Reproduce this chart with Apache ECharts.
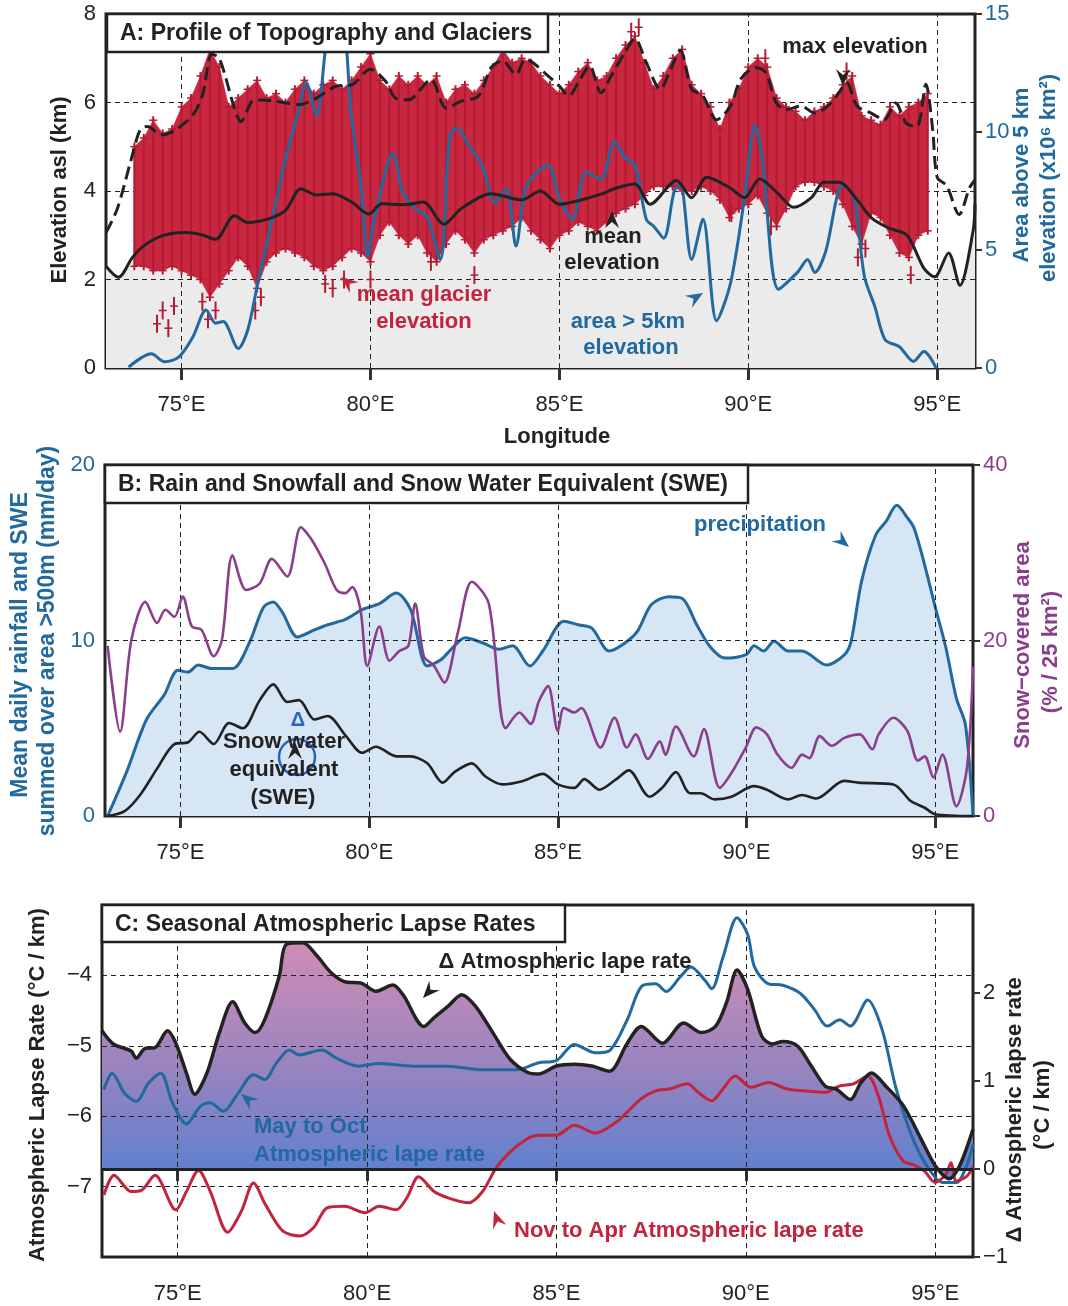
<!DOCTYPE html>
<html>
<head>
<meta charset="utf-8">
<script src="https://cdn.jsdelivr.net/npm/echarts@6/dist/echarts.min.js"></script>
<style>
  html, body { margin: 0; background: #fff; }
  #chart { width: 1068px; height: 1306px; }
</style>
</head>
<body>
<div id="chart"></div>
<script>
// longitude ticks shared by the three panels
const lonTicks = [75, 80, 85, 90, 95];

// ---- A: topography and glaciers ----
const meanLon = [73.0, 73.33, 73.7, 74.0, 74.5, 75.1, 75.5, 75.9, 76.4, 76.75,
  77.3, 77.75, 78.16, 78.57, 79.0, 79.5, 79.95, 80.3, 80.9, 81.4,
  81.94, 82.4, 83.2, 84.0, 84.5, 85.0, 85.5, 86.1, 86.55, 87.0,
  87.4, 88.1, 88.5, 88.9, 89.5, 89.9, 90.3, 90.8, 91.2, 91.67,
  92.0, 92.4, 92.9, 93.25, 93.7, 94.2, 94.65, 94.93, 95.3, 95.6,
  95.95, 96.0];
const meanElev = [2.3, 2.05, 2.5, 2.76, 2.99, 3.06, 3.02, 2.91, 3.44, 3.29,
  3.37, 3.56, 4.05, 3.91, 3.94, 3.75, 3.48, 3.71, 3.69, 3.75,
  3.25, 3.6, 3.94, 3.8, 4.0, 3.7, 3.78, 3.93, 4.08, 4.16,
  3.7, 4.24, 3.85, 4.31, 4.08, 3.85, 4.27, 3.93, 3.63, 3.85,
  4.2, 4.2, 3.78, 3.4, 3.17, 3.0, 2.25, 2.06, 2.6, 1.87,
  3.1, 3.7];

const maxLon = [73.0, 73.3, 73.65, 73.9, 74.1, 74.47, 74.84, 75.3, 75.56, 75.8,
  76.0, 76.4, 76.57, 76.93, 77.48, 78.1, 78.57, 79.1, 79.5, 80.0,
  80.4, 80.66, 81.0, 81.6, 82.0, 82.4, 82.85, 83.2, 83.5, 83.85,
  84.1, 84.3, 84.7, 85.0, 85.25, 85.5, 85.8, 86.1, 86.37, 86.74,
  87.0, 87.3, 87.67, 87.95, 88.2, 88.5, 88.8, 89.16, 89.53, 89.8,
  90.19, 90.46, 90.74, 91.0, 91.4, 91.76, 92.1, 92.4, 92.6, 92.88,
  93.25, 93.6, 93.9, 94.18, 94.46, 94.7, 94.88, 95.0, 95.25, 95.58,
  95.86, 96.0];
const maxElev = [3.06, 3.6, 4.66, 5.38, 5.46, 5.27, 5.38, 5.72, 6.18, 7.09,
  7.0, 5.87, 5.57, 6.06, 6.03, 5.95, 6.1, 6.37, 6.4, 6.75,
  6.48, 6.1, 6.06, 6.52, 5.87, 6.03, 6.14, 6.79, 6.94, 6.63,
  6.98, 6.9, 6.6, 6.37, 6.15, 6.45, 6.83, 6.22, 6.6, 7.14,
  7.44, 6.9, 6.3, 6.76, 7.18, 6.3, 6.15, 5.61, 5.92, 6.53,
  6.79, 6.68, 5.99, 5.84, 5.92, 5.76, 5.92, 6.22, 6.45, 5.92,
  5.76, 5.61, 5.99, 5.53, 5.46, 6.41, 5.38, 4.31, 4.12, 3.47,
  4.08, 4.25];

// area above 5 km (x10^6 km2, right axis)
const areaLon = [73.6, 74.2, 74.56, 74.93, 75.3, 75.65, 75.9, 76.1, 76.5, 76.75,
  77.0, 77.4, 77.75, 78.1, 78.3, 78.57, 78.8, 78.95, 79.2, 79.5,
  79.75, 79.93, 80.1, 80.6, 80.85, 81.2, 81.5, 81.85, 82.1, 82.3,
  82.6, 82.95, 83.3, 83.6, 83.85, 84.1, 84.4, 84.7, 85.0, 85.35,
  85.7, 86.1, 86.46, 86.74, 87.0, 87.3, 87.5, 87.76, 88.04, 88.2,
  88.5, 88.8, 89.16, 89.53, 89.9, 90.18, 90.37, 90.8, 91.3, 91.57,
  91.76, 92.04, 92.5, 92.8, 93.07, 93.35, 93.62, 94.0, 94.37, 94.65,
  94.97];
const areaVal = [0.04, 0.6, 0.26, 0.47, 1.32, 2.46, 1.9, 1.97, 0.83, 1.6,
  3.46, 6.3, 8.87, 10.9, 12.1, 10.7, 13.4, 15.5, 15.5, 10.6,
  7.7, 4.74, 6.3, 9.1, 7.45, 6.74, 6.4, 4.6, 9.87, 10.16,
  9.44, 8.6, 7.0, 7.6, 5.17, 7.6, 8.3, 8.6, 7.2, 6.3,
  8.3, 8.0, 9.6, 8.9, 8.6, 6.3, 6.0, 5.5, 7.5, 7.8,
  4.6, 6.3, 2.0, 3.6, 7.2, 10.3, 8.9, 3.34, 4.05, 4.6,
  4.05, 4.9, 7.75, 7.2, 3.9, 2.6, 1.2, 0.9, 0.28, 0.7,
  0];

// mean glacier elevation spread (km)
const glLon = [73.75, 74.0, 74.25, 74.5, 74.75, 75.0, 75.25, 75.5, 75.75, 76.0,
  76.25, 76.5, 76.75, 77.0, 77.25, 77.5, 77.75, 78.0, 78.25, 78.5,
  78.75, 79.0, 79.25, 79.5, 79.75, 80.0, 80.25, 80.5, 80.75, 81.0,
  81.25, 81.5, 81.75, 82.0, 82.25, 82.5, 82.75, 83.0, 83.25, 83.5,
  83.75, 84.0, 84.25, 84.5, 84.75, 85.0, 85.25, 85.5, 85.75, 86.0,
  86.25, 86.5, 86.75, 87.0, 87.25, 87.5, 87.75, 88.0, 88.25, 88.5,
  88.75, 89.0, 89.25, 89.5, 89.75, 90.0, 90.25, 90.5, 90.75, 91.0,
  91.25, 91.5, 91.75, 92.0, 92.25, 92.5, 92.75, 93.0, 93.25, 93.5,
  93.75, 94.0, 94.25, 94.5, 94.75];
const glTop = [5.0, 5.2, 5.6, 5.3, 5.4, 5.9, 6.1, 6.6, 7.2, 6.8,
  5.9, 6.1, 6.3, 6.5, 6.1, 6.2, 6.0, 6.3, 6.5, 6.2,
  6.4, 6.5, 6.3, 6.5, 6.8, 7.1, 6.5, 6.3, 6.6, 6.4,
  6.6, 6.4, 6.6, 6.0, 6.3, 6.4, 6.2, 6.5, 6.8, 7.2,
  6.9, 7.0, 6.9, 6.6, 6.4, 6.2, 6.4, 6.7, 6.9, 6.5,
  6.6, 7.0, 7.3, 7.5, 6.9, 6.3, 6.6, 7.0, 7.2, 6.4,
  6.2, 5.9, 5.4, 6.0, 6.3, 6.8, 7.0, 6.8, 6.1, 5.9,
  5.8, 5.6, 5.8, 5.9, 6.1, 6.4, 6.6, 5.7, 5.6, 5.5,
  5.9, 5.7, 5.9, 6.0, 6.2];
const glLow = [2.3, 2.3, 2.2, 2.2, 2.3, 2.2, 2.1, 2.0, 1.6, 1.9,
  2.2, 2.5, 2.3, 1.8, 2.4, 2.6, 2.7, 2.6, 2.5, 2.3,
  2.2, 2.3, 2.5, 2.7, 2.6, 2.4, 3.0, 3.3, 3.0, 2.8,
  3.0, 2.6, 2.4, 2.8, 3.1, 2.9, 2.6, 2.9, 3.0, 3.1,
  3.2, 3.4, 3.1, 2.9, 2.7, 3.0, 3.1, 3.3, 3.2, 3.1,
  3.3, 3.5, 3.6, 3.7, 3.9, 4.1, 4.1, 4.1, 4.0, 4.0,
  4.1, 4.0, 3.8, 3.4, 3.6, 3.7, 3.9, 3.5, 3.2, 3.6,
  4.1, 4.2, 4.2, 4.1, 4.0, 3.7, 3.2, 2.8, 3.5, 3.4,
  3.0, 2.6, 2.5, 3.0, 3.1];
// isolated glaciers outside the dense cloud
const glOutLon = [74.35, 74.5, 74.65, 74.8, 75.55, 75.7, 75.9, 76.95, 77.1, 78.8,
  79.0, 79.3, 80.0, 81.6, 82.75, 89.55, 90.6, 92.9, 93.1, 94.3,
  86.9, 87.1, 80.05, 90.45, 92.6];
const glOutElev = [1.0, 1.3, 0.9, 1.4, 1.5, 1.1, 1.3, 1.3, 1.6, 1.9,
  1.8, 2.0, 2.0, 2.4, 2.1, 3.5, 3.2, 2.5, 2.7, 2.1,
  7.6, 7.7, 7.3, 7.0, 6.7];

// ---- B: precipitation, snow cover, SWE ----
const precipLon = [73.07, 73.57, 74.1, 74.57, 74.93, 75.2, 75.47, 75.83, 76.38, 76.83,
  77.2, 77.46, 77.7, 78.1, 78.55, 78.9, 79.37, 79.8, 80.27, 80.72,
  81.1, 81.54, 81.9, 82.26, 82.54, 83.0, 83.44, 83.8, 84.26, 84.6,
  85.16, 85.53, 85.9, 86.36, 86.74, 87.1, 87.48, 87.94, 88.3, 88.68,
  89.05, 89.43, 89.99, 90.2, 90.45, 90.73, 91.1, 91.47, 92.12, 92.6,
  92.77, 93.05, 93.42, 93.7, 93.98, 94.26, 94.44, 94.72, 95.0, 95.28,
  95.56, 95.8, 96.0];
const precip = [0, 2.5, 5.5, 6.9, 8.3, 8.2, 8.6, 8.4, 8.4, 9.9,
  11.9, 12.2, 11.6, 10.2, 10.6, 10.9, 11.2, 11.75, 12.1, 12.7,
  11.75, 8.55, 8.9, 9.7, 10.15, 9.87, 9.5, 9.7, 8.55, 9.4,
  11.1, 10.9, 10.7, 9.4, 9.8, 10.5, 12.05, 12.5, 12.4, 10.9,
  9.6, 9.0, 9.2, 9.7, 9.4, 9.96, 9.4, 9.4, 8.6, 9.2,
  9.96, 13.4, 16.0, 16.8, 17.7, 17.0, 16.4, 14.3, 11.9, 9.6,
  6.7, 5.2, 0];

const snowLon = [73.07, 73.4, 73.7, 74.07, 74.38, 74.6, 74.84, 75.06, 75.3, 75.56,
  75.88, 76.1, 76.38, 76.74, 77.1, 77.42, 77.83, 78.19, 78.46, 78.82,
  79.14, 79.37, 79.55, 79.77, 79.95, 80.27, 80.54, 80.8, 81.04, 81.22,
  81.45, 81.72, 81.99, 82.35, 82.72, 83.17, 83.62, 83.98, 84.28, 84.5,
  84.74, 85.0, 85.16, 85.44, 85.62, 86.13, 86.5, 86.83, 87.06, 87.39,
  87.7, 87.85, 88.13, 88.6, 88.87, 89.29, 89.6, 89.98, 90.26, 90.54,
  90.82, 91.19, 91.47, 91.66, 91.94, 92.26, 92.59, 93.0, 93.33, 93.5,
  93.89, 94.26, 94.54, 94.72, 94.95, 95.19, 95.56, 95.84, 96.0];
const snowCover = [19.4, 9.6, 20.1, 24.4, 22.0, 23.5, 22.7, 25.0, 21.6, 21.2,
  18.2, 20.1, 29.7, 25.75, 26.5, 29.3, 27.3, 32.9, 31.6, 28.8,
  25.75, 25.4, 26.1, 23.5, 17.1, 21.6, 17.7, 18.8, 19.4, 24.2,
  18.2, 17.1, 15.2, 20.9, 26.7, 24.2, 10.0, 11.8, 10.5, 13.1,
  14.8, 9.7, 12.3, 11.8, 12.3, 7.8, 11.2, 7.8, 9.3, 6.5,
  8.5, 7.0, 10.2, 6.8, 9.9, 3.2, 4.9, 7.8, 10.1, 9.3,
  7.0, 5.5, 7.0, 6.6, 9.1, 8.0, 8.9, 9.3, 7.6, 9.3,
  11.2, 9.7, 6.3, 6.8, 4.4, 7.0, 1.1, 5.5, 17.0];

const sweLon = [73.07, 73.52, 73.93, 74.38, 74.84, 75.2, 75.5, 75.88, 76.29, 76.65,
  77.1, 77.46, 77.83, 78.14, 78.55, 78.9, 79.37, 79.82, 80.18, 80.72,
  81.09, 81.54, 81.95, 82.26, 82.72, 83.08, 83.53, 84.08, 84.6, 85.0,
  85.44, 85.7, 86.1, 86.55, 86.88, 87.43, 87.76, 88.13, 88.5, 88.78,
  89.15, 89.6, 90.2, 90.54, 91.1, 91.47, 91.84, 92.59, 92.96, 93.89,
  94.35, 94.72, 95.0, 96.0];
const swe = [0, 0.28, 1.2, 2.7, 4.1, 4.2, 4.8, 4.1, 5.3, 5.0,
  6.6, 7.5, 6.5, 6.6, 5.5, 5.7, 4.6, 3.6, 3.95, 3.4,
  3.4, 3.0, 1.9, 2.5, 3.0, 2.25, 1.8, 2.0, 2.4, 1.8,
  1.6, 2.1, 1.5, 2.1, 2.6, 1.1, 1.6, 2.5, 1.3, 1.3,
  0.95, 1.1, 1.7, 1.5, 0.95, 1.2, 1.0, 2.0, 1.9, 1.8,
  0.85, 0.47, 0.1, 0];

// ---- C: lapse rates ----
const deltaLon = [73.0, 73.3, 73.77, 73.9, 74.14, 74.4, 74.73, 74.95, 75.23, 75.45,
  75.77, 76.1, 76.45, 76.77, 77.05, 77.3, 77.68, 77.86, 78.3, 78.68,
  79.05, 79.4, 79.86, 80.23, 80.68, 80.95, 81.5, 81.77, 82.14, 82.5,
  82.86, 83.32, 83.77, 84.23, 84.53, 85.0, 85.47, 85.93, 86.4, 86.87,
  87.24, 87.8, 88.36, 88.83, 89.2, 89.49, 89.77, 90.05, 90.42, 90.7,
  90.98, 91.36, 91.73, 92.1, 92.38, 92.76, 93.04, 93.32, 93.7, 94.16,
  94.63, 95.0, 95.37, 95.65, 96.0];
const deltaRate = [1.57, 1.42, 1.34, 1.26, 1.37, 1.38, 1.57, 1.43, 1.09, 0.85,
  1.09, 1.55, 1.9, 1.66, 1.55, 1.7, 2.19, 2.55, 2.57, 2.42,
  2.23, 2.13, 2.11, 2.02, 2.09, 1.98, 1.62, 1.72, 1.85, 1.98,
  1.85, 1.55, 1.25, 1.1, 1.08, 1.17, 1.19, 1.17, 1.11, 1.43,
  1.62, 1.43, 1.66, 1.55, 1.62, 1.89, 2.26, 2.04, 1.51, 1.42,
  1.45, 1.4, 1.17, 0.94, 0.91, 0.79, 0.98, 1.09, 0.94, 0.72,
  0.34, 0.04, -0.11, 0.04, 0.45];

const mayLon = [73.05, 73.27, 73.59, 73.9, 74.23, 74.55, 74.86, 75.23, 75.6, 75.86,
  76.2, 76.6, 77.0, 77.3, 77.6, 77.95, 78.2, 78.8, 79.2, 79.77,
  80.3, 81.2, 82.1, 83.05, 83.95, 84.53, 85.0, 85.47, 86.03, 86.4,
  86.87, 87.24, 87.62, 87.9, 88.27, 88.55, 88.92, 89.1, 89.4, 89.77,
  90.05, 90.23, 90.6, 90.98, 91.45, 91.82, 92.15, 92.48, 92.76, 93.22,
  93.6, 93.97, 94.44, 94.81, 95.19, 95.56, 95.84, 96.0];
const mayOct = [-5.62, -5.39, -5.67, -5.79, -5.53, -5.39, -5.81, -6.11, -5.86, -5.81,
  -5.93, -5.67, -5.41, -5.48, -5.25, -5.06, -5.13, -5.06, -5.18, -5.29,
  -5.25, -5.29, -5.29, -5.34, -5.34, -5.24, -5.21, -4.98, -5.1, -5.07,
  -4.63, -4.16, -4.12, -4.23, -4.02, -3.88, -4.07, -4.19, -3.74, -3.18,
  -3.42, -3.88, -4.12, -4.14, -4.26, -4.49, -4.72, -4.63, -4.72, -4.35,
  -4.77, -5.61, -6.36, -6.73, -6.94, -6.94, -6.69, -6.4];

const novLon = [73.05, 73.32, 73.77, 74.05, 74.4, 74.95, 75.23, 75.55, 75.86, 76.32,
  76.68, 77.0, 77.32, 77.77, 78.23, 78.59, 78.95, 79.4, 79.95, 80.32,
  80.77, 81.05, 81.36, 81.77, 82.14, 82.68, 83.05, 83.4, 83.77, 84.23,
  84.53, 85.0, 85.47, 86.03, 86.59, 86.87, 87.24, 87.62, 88.0, 88.46,
  88.74, 89.1, 89.4, 89.72, 90.14, 90.6, 91.07, 91.54, 92.1, 92.48,
  92.85, 93.22, 93.5, 93.79, 94.16, 94.44, 94.72, 95.0, 95.28, 95.42,
  95.56, 95.84, 96.0];
const novApr = [-7.12, -6.84, -7.07, -7.05, -6.84, -7.33, -7.07, -6.77, -7.07, -7.65,
  -7.35, -6.95, -7.26, -7.63, -7.7, -7.58, -7.3, -7.28, -7.37, -7.28,
  -7.33, -7.16, -6.86, -7.07, -7.16, -7.23, -7.07, -6.74, -6.51, -6.32,
  -6.27, -6.27, -6.13, -6.24, -6.08, -5.94, -5.75, -5.64, -5.61, -5.54,
  -5.66, -5.78, -5.61, -5.43, -5.59, -5.52, -5.61, -5.64, -5.66, -5.57,
  -5.54, -5.43, -5.71, -6.27, -6.64, -6.69, -6.78, -6.94, -6.83, -6.66,
  -6.92, -6.85, -6.72];

const FF = '"Liberation Sans", Arial, Helvetica, sans-serif';
const DARK = '#222';
const BLUE = '#21699e';
const RED = '#c2243e';
const PURPLE = '#8a3e8b';

function zip(xs, ys) { return xs.map((x, i) => [x, ys[i]]); }
function minus(v) { return String(v).replace('-', '\u2212'); }

function gridLines(hValues, z) {
  return {
    silent: true, z: z, symbol: ['none', 'none'], label: { show: false },
    lineStyle: { color: DARK, type: [5, 4], width: 1 },
    emphasis: { disabled: true },
    data: lonTicks.map(v => ({ xAxis: v })).concat(hValues.map(v => ({ yAxis: v })))
  };
}

function xAx(i) {
  return {
    gridIndex: i, type: 'value', min: 73, max: 96,
    axisLine: { show: false }, splitLine: { show: false },
    axisTick: { customValues: lonTicks, length: 12, lineStyle: { color: '#333', width: 3 } },
    axisLabel: { customValues: lonTicks, formatter: v => v + '°E', fontSize: 22, color: DARK, margin: 26, fontFamily: FF }
  };
}
function yAx(i, pos, min, max, interval, color, extra) {
  return Object.assign({
    gridIndex: i, type: 'value', position: pos, min, max, interval,
    axisLine: { show: false }, splitLine: { show: false },
    axisTick: { show: pos === 'right', length: 7, lineStyle: { color: '#333', width: 2 } },
    axisLabel: { fontSize: 22, color, margin: 10, fontFamily: FF, formatter: minus }
  }, extra || {});
}

function line(name, xs, ys, xi, yi, color, width, z, more) {
  return Object.assign({
    name, type: 'line', xAxisIndex: xi, yAxisIndex: yi, data: zip(xs, ys),
    showSymbol: false, smooth: 0.3, z,
    lineStyle: { color, width }, itemStyle: { color }
  }, more || {});
}

// glacier cloud: band polygon + error bars per sample
function glacierItem(params, api) {
  const i = params.dataIndex;
  const x = api.value(0);
  const pTop = api.coord([x, api.value(2)]);
  const pLow = api.coord([x, api.value(1)]);
  const kids = [];
  if (i < glLon.length - 1) {
    const nTop = api.coord([glLon[i + 1], glTop[i + 1]]);
    const nLow = api.coord([glLon[i + 1], glLow[i + 1]]);
    kids.push({ type: 'polygon', shape: { points: [pTop, nTop, nLow, pLow] },
      style: { fill: '#c8283f', stroke: '#c8283f', lineWidth: 0.6 } });
  }
  kids.push({ type: 'line', shape: { x1: pTop[0], y1: pTop[1] - 4, x2: pLow[0], y2: pLow[1] + 4 },
    style: { stroke: '#b51a35', lineWidth: 2 } });
  [pTop, pLow].forEach(p => kids.push({ type: 'line', shape: { x1: p[0] - 4, y1: p[1], x2: p[0] + 4, y2: p[1] },
    style: { stroke: '#b51a35', lineWidth: 1.5 } }));
  return { type: 'group', children: kids };
}
function crossItem(params, api) {
  const p = api.coord([api.value(0), api.value(1)]);
  return { type: 'group', children: [
    { type: 'line', shape: { x1: p[0], y1: p[1] - 9, x2: p[0], y2: p[1] + 9 }, style: { stroke: '#b51a35', lineWidth: 2 } },
    { type: 'line', shape: { x1: p[0] - 4, y1: p[1], x2: p[0] + 4, y2: p[1] }, style: { stroke: '#b51a35', lineWidth: 1.5 } }
  ] };
}

// ---- annotation helpers ----
function txt(x, y, text, color, size, opts) {
  opts = opts || {};
  const el = { type: 'text', x, y, z: 100, silent: true,
    style: { text, font: (opts.weight || 'bold') + ' ' + size + 'px ' + FF, fill: color,
      textAlign: opts.align || 'center', textVerticalAlign: 'middle' } };
  if (opts.rot) el.rotation = opts.rot;
  return el;
}
function dart(x, y, dx, dy, color) {
  const a = Math.atan2(dy, dx), c = Math.cos(a), s = Math.sin(a);
  const pts = [[0, 0], [-17, -7], [-11, 0], [-17, 7]].map(([u, v]) => [x + u * c - v * s, y + u * s + v * c]);
  return { type: 'polygon', z: 100, silent: true, shape: { points: pts }, style: { fill: color } };
}
function box(x, y, w, h, text) {
  return [
    { type: 'rect', z: 99, silent: true, shape: { x, y, width: w, height: h }, style: { fill: '#fff', stroke: DARK, lineWidth: 2.5 } },
    txt(x + 13, y + h / 2 + 1, text, DARK, 23, { align: 'left' })
  ];
}
const R90 = Math.PI / 2;

const graphics = [].concat(
  box(107, 14, 441, 38, 'A: Profile of Topography and Glaciers'),
  box(105, 465, 643, 38, 'B: Rain and Snowfall and Snow Water Equivalent (SWE)'),
  box(102, 905, 463, 37, 'C: Seasonal Atmospheric Lapse Rates'),
  [
    // axis titles
    txt(60, 190, 'Elevation asl (km)', DARK, 22, { rot: R90 }),
    txt(1022, 175, 'Area above 5 km', BLUE, 22, { rot: R90 }),
    txt(1049, 178, 'elevation (x10\u2076 km\u00b2)', BLUE, 22, { rot: R90 }),
    txt(557, 437, 'Longitude', DARK, 22),
    txt(21, 645, 'Mean daily rainfall and SWE', BLUE, 23, { rot: R90 }),
    txt(48, 641, 'summed over area >500m (mm/day)', BLUE, 23, { rot: R90 }),
    txt(1023, 645, 'Snow\u2212covered area', PURPLE, 22, { rot: R90 }),
    txt(1051, 652, '(% / 25 km\u00b2)', PURPLE, 22, { rot: R90 }),
    txt(38, 1085, 'Atmospheric Lapse Rate (°C / km)', DARK, 22, { rot: R90 }),
    txt(1015, 1110, '\u0394 Atmospheric lapse rate', DARK, 22, { rot: R90 }),
    txt(1043, 1105, '(°C / km)', DARK, 22, { rot: R90 }),
    // panel A notes
    txt(855, 47, 'max elevation', DARK, 22),
    dart(843, 86, 0, 1, DARK),
    txt(613, 237, 'mean', DARK, 22),
    txt(612, 263, 'elevation', DARK, 22),
    dart(612, 211, 0, -1, DARK),
    txt(424, 295, 'mean glacier', RED, 22),
    txt(424, 322, 'elevation', RED, 22),
    dart(341, 277, -1, -0.8, RED),
    txt(628, 322, 'area > 5km', BLUE, 22),
    txt(631, 348, 'elevation', BLUE, 22),
    dart(703, 293, 1, -0.6, BLUE),
    // panel B notes
    txt(760, 525, 'precipitation', BLUE, 22),
    dart(849, 547, 1, 0.85, BLUE),
    { type: 'circle', z: 100, silent: true, shape: { cx: 297, cy: 757, r: 18 }, style: { fill: 'none', stroke: '#2c62c0', lineWidth: 2.5 } },
    txt(298, 720, '\u0394', '#2c62c0', 20),
    dart(295, 742, 0, -1, DARK),
    txt(284, 742, 'Snow water', DARK, 22),
    txt(284, 770, 'equivalent', DARK, 22),
    txt(283, 798, '(SWE)', DARK, 22),
    // panel C notes
    txt(565, 962, '\u0394 Atmospheric lape rate', DARK, 22),
    dart(423, 998, -1, 1.1, DARK),
    txt(254, 1127, 'May to Oct', BLUE, 22, { align: 'left' }),
    txt(254, 1155, 'Atmospheric lape rate', BLUE, 22, { align: 'left' }),
    dart(241, 1094, -1, -0.8, BLUE),
    txt(514, 1231, 'Nov to Apr Atmospheric lape rate', RED, 22, { align: 'left' }),
    dart(494, 1211, -0.35, -1, RED)
  ]
);

const chart = echarts.init(document.getElementById('chart'), null, { renderer: 'canvas' });
chart.setOption({
  animation: false,
  backgroundColor: '#fff',
  textStyle: { fontFamily: FF },
  grid: [
    { left: 106, right: 93, top: 14, height: 354, show: true, borderColor: DARK, borderWidth: 3, backgroundColor: 'transparent' },
    { left: 105, right: 95, top: 465, height: 351, show: true, borderColor: DARK, borderWidth: 3, backgroundColor: 'transparent' },
    { left: 102, right: 95, top: 905, height: 352, show: true, borderColor: DARK, borderWidth: 3, backgroundColor: 'transparent' }
  ],
  xAxis: [xAx(0), xAx(1), xAx(2)],
  yAxis: [
    yAx(0, 'left', 0, 8, 2, DARK),
    yAx(0, 'right', 0, 15, 5, BLUE),
    yAx(1, 'left', 0, 20, 10, BLUE),
    yAx(1, 'right', 0, 40, 20, PURPLE),
    yAx(2, 'left', -8, -3, 1, DARK, { axisLabel: { fontSize: 22, color: DARK, margin: 10, fontFamily: FF, formatter: minus, showMinLabel: false, showMaxLabel: false } }),
    yAx(2, 'right', -1, 3, 1, DARK, { axisLabel: { fontSize: 22, color: DARK, margin: 10, fontFamily: FF, formatter: minus, showMaxLabel: false } })
  ],
  series: [
    // A
    line('mean fill', meanLon, meanElev, 0, 0, 'transparent', 0, 1, {
      areaStyle: { color: '#ebebeb', opacity: 1, origin: 'start' }, lineStyle: { width: 0 },
      markLine: gridLines([2, 4, 6], 2)
    }),
    {
      name: 'glacier', type: 'custom', xAxisIndex: 0, yAxisIndex: 0, z: 3,
      data: glLon.map((l, i) => [l, glLow[i], glTop[i]]),
      encode: { x: 0, y: [1, 2] }, renderItem: glacierItem, clip: true
    },
    {
      name: 'glacier outliers', type: 'custom', xAxisIndex: 0, yAxisIndex: 0, z: 3,
      data: zip(glOutLon, glOutElev), encode: { x: 0, y: 1 }, renderItem: crossItem, clip: true
    },
    line('area > 5km', areaLon, areaVal, 0, 1, BLUE, 3, 4),
    line('max elevation', maxLon, maxElev, 0, 0, DARK, 3, 5, { lineStyle: { color: DARK, width: 3, type: [13, 6] } }),
    line('mean elevation', meanLon, meanElev, 0, 0, DARK, 3, 6),
    // B
    line('precipitation', precipLon, precip, 1, 2, BLUE, 3, 2, {
      areaStyle: { color: '#d6e6f4', opacity: 1, origin: 'start' },
      markLine: gridLines([10], 3)
    }),
    line('snow cover', snowLon, snowCover, 1, 3, PURPLE, 2.6, 4),
    line('SWE', sweLon, swe, 1, 2, DARK, 2.6, 4),
    // C
    line('delta fill', deltaLon, deltaRate, 2, 5, 'transparent', 0, 1, {
      lineStyle: { width: 0 },
      areaStyle: {
        origin: 0, opacity: 1,
        color: new echarts.graphic.LinearGradient(0, 0, 0, 1, [
          { offset: 0, color: '#d08db4' },
          { offset: 0.5, color: '#9c84bf' },
          { offset: 1, color: '#5d80cf' }
        ])
      }
    }),
    line('May to Oct', mayLon, mayOct, 2, 4, BLUE, 3, 4, { markLine: gridLines([-7, -6, -5, -4], 3) }),
    line('Nov to Apr', novLon, novApr, 2, 4, RED, 3, 4),
    line('delta', deltaLon, deltaRate, 2, 5, DARK, 3.5, 5, {
      markLine: { silent: true, z: 6, symbol: ['none', 'none'], label: { show: false },
        lineStyle: { color: DARK, type: 'solid', width: 3 }, data: [{ yAxis: 0 }] }
    })
  ],
  graphic: { elements: graphics }
});
</script>
</body>
</html>
